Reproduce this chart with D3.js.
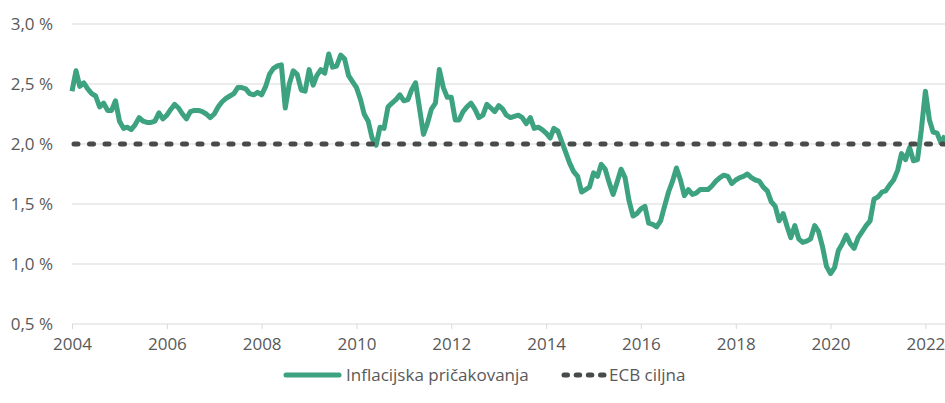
<!DOCTYPE html>
<html>
<head>
<meta charset="utf-8">
<script src="https://cdn.jsdelivr.net/npm/d3@7"></script>
<style>
  body { margin: 0; background: #fff; }
  text { font-family: "Open Sans", sans-serif; fill: #595959; }
</style>
</head>
<body>
<svg id="chart"></svg>
<script>
// monthly values, Jan 2004 - Jun 2022
const startDate = new Date(2004, 0, 1);
const inflExp = [
  2.44, 2.61, 2.48, 2.51, 2.46, 2.42, 2.40, 2.31, 2.34, 2.28, 2.28, 2.36, // 2004
  2.19, 2.13, 2.14, 2.12, 2.16, 2.22, 2.19, 2.18, 2.18, 2.19, 2.26, 2.21, // 2005
  2.24, 2.29, 2.33, 2.30, 2.25, 2.21, 2.27, 2.28, 2.28, 2.27, 2.25, 2.22, // 2006
  2.25, 2.31, 2.35, 2.38, 2.40, 2.42, 2.47, 2.47, 2.46, 2.42, 2.41, 2.43, // 2007
  2.41, 2.48, 2.58, 2.63, 2.65, 2.66, 2.30, 2.50, 2.61, 2.58, 2.45, 2.44, // 2008
  2.62, 2.49, 2.57, 2.62, 2.59, 2.75, 2.64, 2.65, 2.74, 2.71, 2.57, 2.52, // 2009
  2.47, 2.37, 2.25, 2.19, 2.05, 1.99, 2.14, 2.13, 2.31, 2.34, 2.37, 2.41, // 2010
  2.36, 2.37, 2.45, 2.51, 2.30, 2.08, 2.17, 2.29, 2.34, 2.62, 2.47, 2.39, // 2011
  2.39, 2.20, 2.20, 2.27, 2.31, 2.34, 2.29, 2.22, 2.24, 2.33, 2.30, 2.27, // 2012
  2.32, 2.29, 2.24, 2.22, 2.23, 2.24, 2.22, 2.17, 2.22, 2.13, 2.14, 2.12, // 2013
  2.09, 2.05, 2.13, 2.11, 2.02, 1.93, 1.84, 1.77, 1.73, 1.60, 1.62, 1.64, // 2014
  1.76, 1.73, 1.83, 1.79, 1.68, 1.58, 1.68, 1.79, 1.72, 1.53, 1.40, 1.42, // 2015
  1.46, 1.48, 1.34, 1.33, 1.31, 1.36, 1.48, 1.60, 1.69, 1.80, 1.70, 1.57, // 2016
  1.62, 1.58, 1.59, 1.62, 1.62, 1.62, 1.65, 1.69, 1.72, 1.74, 1.73, 1.67, // 2017
  1.70, 1.72, 1.73, 1.75, 1.72, 1.70, 1.69, 1.64, 1.61, 1.52, 1.48, 1.36, // 2018
  1.42, 1.31, 1.22, 1.32, 1.21, 1.18, 1.19, 1.21, 1.32, 1.27, 1.14, 0.98, // 2019
  0.92, 0.97, 1.11, 1.17, 1.24, 1.17, 1.13, 1.22, 1.27, 1.32, 1.36, 1.54, // 2020
  1.56, 1.60, 1.61, 1.66, 1.70, 1.78, 1.92, 1.87, 1.97, 1.86, 1.87, 2.12, // 2021
  2.44, 2.20, 2.10, 2.09, 2.01, 2.07                                      // 2022
];
const ecbTarget = 2.0;
const yTicks = [0.5, 1.0, 1.5, 2.0, 2.5, 3.0];
const xTickYears = [2004, 2006, 2008, 2010, 2012, 2014, 2016, 2018, 2020, 2022];
const seriesNames = ["Inflacijska pričakovanja", "ECB ciljna"];

const W = 945, H = 403;
const green = "#3ca27f", dark = "#474b4a";

const svg = d3.select("#chart").attr("width", W).attr("height", H);

const data = inflExp.map((v, i) => ({ date: d3.timeMonth.offset(startDate, i), value: v }));

const x = d3.scaleTime()
  .domain(d3.extent(data, d => d.date))
  .range([72, 945]);
const y = d3.scaleLinear().domain([0.5, 3.0]).range([324, 24]);

const fmt = v => d3.format(".1f")(v).replace(".", ",") + " %";

// gridlines
svg.append("g")
  .selectAll("line")
  .data(yTicks)
  .join("line")
  .attr("x1", 72).attr("x2", W)
  .attr("y1", d => y(d)).attr("y2", d => y(d))
  .attr("stroke", "#d9d9d9")
  .attr("stroke-width", 1);

// y labels
svg.append("g")
  .selectAll("text")
  .data(yTicks)
  .join("text")
  .attr("x", 53)
  .attr("y", d => y(d))
  .attr("dy", "0.35em")
  .attr("text-anchor", "end")
  .style("font-size", "17px")
  .text(fmt);

// x axis
const xAxis = svg.append("g")
  .attr("transform", `translate(0,${y(0.5)})`)
  .call(d3.axisBottom(x)
    .tickValues(xTickYears.map(yr => new Date(yr, 0, 1)))
    .tickFormat(d3.timeFormat("%Y"))
    .tickSize(5)
    .tickPadding(9));
xAxis.select(".domain").remove();
xAxis.selectAll(".tick line").attr("stroke", "#d9d9d9");
xAxis.selectAll(".tick text")
  .style("font-size", "17px")
  .style("font-family", "'Open Sans', sans-serif")
  .attr("fill", "#595959");

const line = d3.line()
  .x(d => x(d.date))
  .y(d => y(d.value));

svg.append("path")
  .datum(data)
  .attr("d", line)
  .attr("fill", "none")
  .attr("stroke", green)
  .attr("stroke-width", 5)
  .attr("stroke-linejoin", "round");

// ECB target
svg.append("line")
  .attr("x1", 74).attr("x2", W)
  .attr("y1", y(ecbTarget)).attr("y2", y(ecbTarget))
  .attr("stroke", dark)
  .attr("stroke-width", 5)
  .attr("stroke-linecap", "round")
  .attr("stroke-dasharray", "4 11.5");

// legend
const legend = svg.append("g");
legend.append("line")
  .attr("x1", 286).attr("x2", 339)
  .attr("y1", 375).attr("y2", 375)
  .attr("stroke", green).attr("stroke-width", 5).attr("stroke-linecap", "round");
legend.append("text")
  .attr("x", 346).attr("y", 375).attr("dy", "0.35em")
  .style("font-size", "17px")
  .text(seriesNames[0]);
legend.append("line")
  .attr("x1", 564).attr("x2", 604)
  .attr("y1", 375).attr("y2", 375)
  .attr("stroke", dark).attr("stroke-width", 5).attr("stroke-linecap", "round")
  .attr("stroke-dasharray", "3.5 8.67");
legend.append("text")
  .attr("x", 609).attr("y", 375).attr("dy", "0.35em")
  .style("font-size", "17px")
  .text(seriesNames[1]);
</script>
</body>
</html>
